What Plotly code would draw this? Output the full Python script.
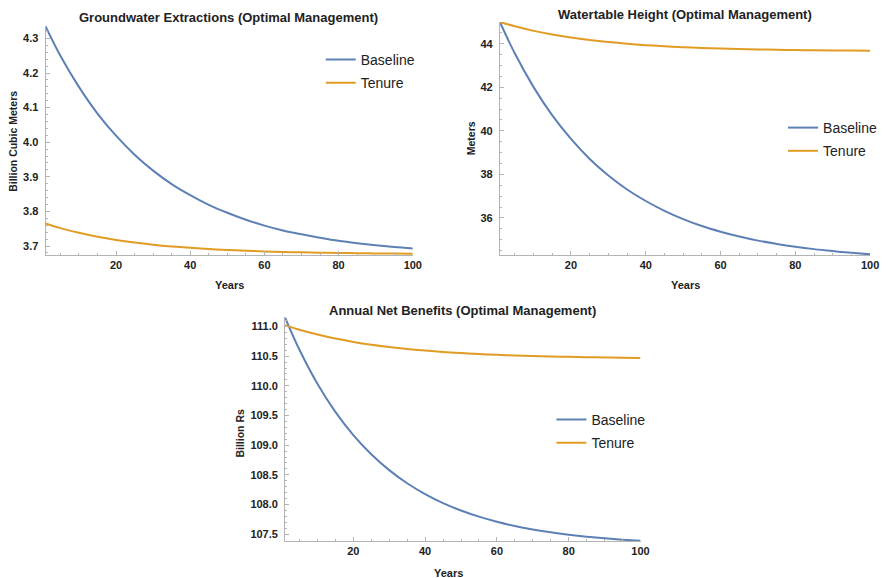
import plotly.graph_objects as go

# Simulation years (optimal management path)
years = [1, 5, 10, 15, 20, 25, 30, 35, 40, 45, 50,
         55, 60, 65, 70, 75, 80, 85, 90, 95, 100]

# Groundwater extractions, billion cubic meters
extraction_baseline = [4.335, 4.250, 4.160, 4.083, 4.019, 3.964, 3.918, 3.879, 3.847, 3.819, 3.796,
                       3.776, 3.759, 3.745, 3.734, 3.724, 3.715, 3.708, 3.702, 3.697, 3.693]
extraction_tenure = [3.765, 3.7518, 3.7381, 3.7268, 3.7176, 3.7101, 3.7039, 3.6988, 3.6947, 3.6913, 3.6885,
                     3.6863, 3.6844, 3.6829, 3.6816, 3.6806, 3.6798, 3.6791, 3.6785, 3.6781, 3.6777]

# Watertable height, meters
watertable_baseline = [45.0, 43.55, 42.01, 40.71, 39.63, 38.71, 37.95, 37.31, 36.78, 36.33, 35.95,
                       35.63, 35.37, 35.15, 34.96, 34.81, 34.68, 34.57, 34.48, 34.40, 34.33]
watertable_tenure = [45.0, 44.801, 44.593, 44.423, 44.284, 44.170, 44.077, 44.000, 43.938, 43.886, 43.845,
                     43.810, 43.782, 43.759, 43.740, 43.725, 43.712, 43.702, 43.693, 43.686, 43.681]

# Annual net benefits, billion Rs
benefits_baseline = [111.15, 110.607, 110.035, 109.561, 109.170, 108.847, 108.579, 108.358, 108.175, 108.023, 107.898,
                     107.795, 107.709, 107.638, 107.580, 107.531, 107.491, 107.458, 107.431, 107.408, 107.389]
benefits_tenure = [111.02, 110.944, 110.864, 110.796, 110.740, 110.693, 110.654, 110.621, 110.594, 110.571, 110.552,
                   110.536, 110.523, 110.511, 110.502, 110.494, 110.488, 110.482, 110.478, 110.474, 110.471]

series_names = ["Baseline", "Tenure"]
panel_titles = ["Groundwater Extractions (Optimal Management)",
                "Watertable Height (Optimal Management)",
                "Annual Net Benefits (Optimal Management)"]
y_titles = ["Billion Cubic Meters", "Meters", "Billion Rs"]
x_title = "Years"
x_ticks = [20, 40, 60, 80, 100]

W, H = 896, 578
BLUE = "#5E81B5"
ORANGE = "#E19C24"
TEXT = "#222222"
AXIS = "#b4b4b4"
FONT = "Liberation Sans"


def px(x):
    return x / W


def py(y):
    return 1 - y / H


fig = go.Figure()

panels = [
    ("x", "y", "legend", extraction_baseline, extraction_tenure),
    ("x2", "y2", "legend2", watertable_baseline, watertable_tenure),
    ("x3", "y3", "legend3", benefits_baseline, benefits_tenure),
]
for xa, ya, lg, base, ten in panels:
    for name, vals, col in zip(series_names, [base, ten], [BLUE, ORANGE]):
        fig.add_trace(go.Scatter(
            x=years, y=vals, name=name, mode="lines",
            line=dict(color=col, width=2, shape="spline", smoothing=1.0),
            xaxis=xa, yaxis=ya, legend=lg, legendgroup=f"{lg}-{name}",
            cliponaxis=False, showlegend=True,
        ))


def xaxis(domain, anchor):
    return dict(domain=domain, anchor=anchor, range=[1, 100],
                tickvals=x_ticks, ticks="inside", ticklen=4, tickcolor=AXIS,
                minor=dict(dtick=5, tick0=0, ticks="inside", ticklen=2, tickcolor=AXIS),
                showline=True, linecolor=AXIS, linewidth=1,
                showgrid=False, zeroline=False,
                tickfont=dict(family=FONT, size=11, color=TEXT, weight="bold"))


def yaxis(domain, anchor, rng, dtick, minor, fmt):
    return dict(domain=domain, anchor=anchor, range=rng,
                dtick=dtick, tick0=0, tickformat=fmt,
                ticks="inside", ticklen=4, tickcolor=AXIS,
                minor=dict(dtick=minor, tick0=0, ticks="inside", ticklen=2, tickcolor=AXIS),
                showline=True, linecolor=AXIS, linewidth=1,
                showgrid=False, zeroline=False, ticklabelstandoff=4,
                tickfont=dict(family=FONT, size=11, color=TEXT, weight="bold"))


def legend(text_x, top_y):
    return dict(x=px(text_x - 37), y=py(top_y), xanchor="left", yanchor="top",
                bgcolor="rgba(0,0,0,0)", borderwidth=0,
                font=dict(family=FONT, size=14, color=TEXT),
                tracegroupgap=2)


annotations = []
title_pos = [(231, 17), (692, 15), (467, 310)]
ylab_pos = [(13, 141), (476, 138), (242, 433)]
xlab_pos = [(232, 285), (692, 285), (453, 573)]
for t, (x, y) in zip(panel_titles, title_pos):
    annotations.append(dict(text=t, x=px(x), y=py(y), xref="paper", yref="paper",
                            showarrow=False, xanchor="center", yanchor="middle",
                            font=dict(family=FONT, size=13, color=TEXT, weight="bold")))
for t, (x, y) in zip(y_titles, ylab_pos):
    annotations.append(dict(text=t, x=px(x), y=py(y), xref="paper", yref="paper",
                            showarrow=False, xanchor="center", yanchor="middle", textangle=-90,
                            font=dict(family=FONT, size=10.5, color=TEXT, weight="bold")))
for (x, y) in xlab_pos:
    annotations.append(dict(text=x_title, x=px(x), y=py(y), xref="paper", yref="paper",
                            showarrow=False, xanchor="center", yanchor="middle",
                            font=dict(family=FONT, size=11, color=TEXT, weight="bold")))

fig.update_layout(
    width=W, height=H, margin=dict(l=0, r=0, t=0, b=0),
    paper_bgcolor="white", plot_bgcolor="white",
    xaxis=xaxis([px(46), px(417)], "y"),
    yaxis=yaxis([py(255), py(26)], "x", [3.674, 4.336], 0.1, 0.02, ".1f"),
    xaxis2=xaxis([px(505), px(879)], "y2"),
    yaxis2=yaxis([py(255), py(22)], "x2", [34.3, 45.0], 2, 0.5, "d"),
    xaxis3=xaxis([px(288), px(647)], "y3"),
    yaxis3=yaxis([py(541), py(317)], "x3", [107.385, 111.16], 0.5, 0.1, ".1f"),
    legend=legend(361, 44),
    legend2=legend(828, 112),
    legend3=legend(594, 404),
    annotations=annotations,
    showlegend=True,
)

fig.write_html("out.html")
